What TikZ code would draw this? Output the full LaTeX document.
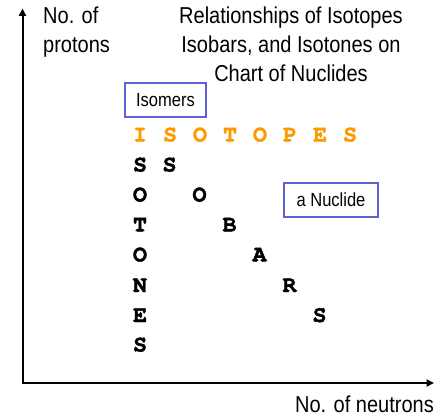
\documentclass[tikz,border=0pt]{standalone}
\usepackage{fontspec}
\setmainfont[FakeStretch=0.87]{Liberation Sans}
\newfontfamily\courbf[FakeBold=1.5]{TeX Gyre Cursor Bold}
\usetikzlibrary{arrows.meta}
\definecolor{isoorange}{RGB}{255,153,0}
\definecolor{boxblue}{RGB}{95,95,215}
\tikzset{
  lab/.style={font=\fontsize{23}{27}\selectfont, inner sep=0pt},
  boxlab/.style={draw=boxblue, line width=1.1pt, inner sep=0pt, font=\fontsize{19}{22}\selectfont},
  let/.style={font=\courbf\fontsize{23.5}{26}\selectfont, inner sep=0pt, anchor=base},
  iso/.style={let, text=isoorange},
  axis/.style={line width=2pt, {Triangle[length=7.5pt,width=7pt]}-{Triangle[length=7.5pt,width=7pt]}}
}
\begin{document}
\begin{tikzpicture}[x=1pt,y=-1pt]
\useasboundingbox (0,0) rectangle (441,417);
\coordinate (origin) at (22.5,383);
\coordinate (ytip) at (22.5,8.5);
\coordinate (xtip) at (434,383);
\draw[axis] (ytip) -- (origin) -- (xtip);
\node[lab, anchor=base west] (yl1) at (43,24) {No. of};
\node[lab, anchor=base west] (yl2) at (43,53) {protons};
\node[lab, anchor=base] (t1) at (291,24) {Relationships of Isotopes};
\node[lab, anchor=base] (t2) at (291,53) {Isobars, and Isotones on};
\node[lab, anchor=base] (t3) at (291,82) {Chart of Nuclides};
\node[lab, anchor=base east] (xl) at (434,412) {No. of neutrons};
\node[boxlab, minimum width=81pt, minimum height=34pt] (isomers) at (165.5,100) {Isomers};
\node[boxlab, minimum width=94pt, minimum height=34pt] (nuclide) at (331,200) {a Nuclide};
% ISOTOPES row
\node[iso] (i0) at (140,141.5) {I};
\node[iso] (i1) at (170,141.5) {S};
\node[iso] (i2) at (200,141.5) {O};
\node[iso] (i3) at (230,141.5) {T};
\node[iso] (i4) at (260,141.5) {O};
\node[iso] (i5) at (290,141.5) {P};
\node[iso] (i6) at (320,141.5) {E};
\node[iso] (i7) at (350,141.5) {S};
% ISOTONES column
\node[let] (c1) at (140,171.5) {S};
\node[let] (c2) at (140,201.5) {O};
\node[let] (c3) at (140,231.5) {T};
\node[let] (c4) at (140,261.5) {O};
\node[let] (c5) at (140,292) {N};
\node[let] (c6) at (140,322) {E};
\node[let] (c7) at (140,351.5) {S};
% ISOBARS diagonal
\node[let] (d1) at (169.5,171.5) {S};
\node[let] (d2) at (199.5,201.5) {O};
\node[let] (d3) at (229.5,231.5) {B};
\node[let] (d4) at (259.5,261.5) {A};
\node[let] (d5) at (289.5,292) {R};
\node[let] (d6) at (319.5,322) {S};
\end{tikzpicture}
\end{document}
